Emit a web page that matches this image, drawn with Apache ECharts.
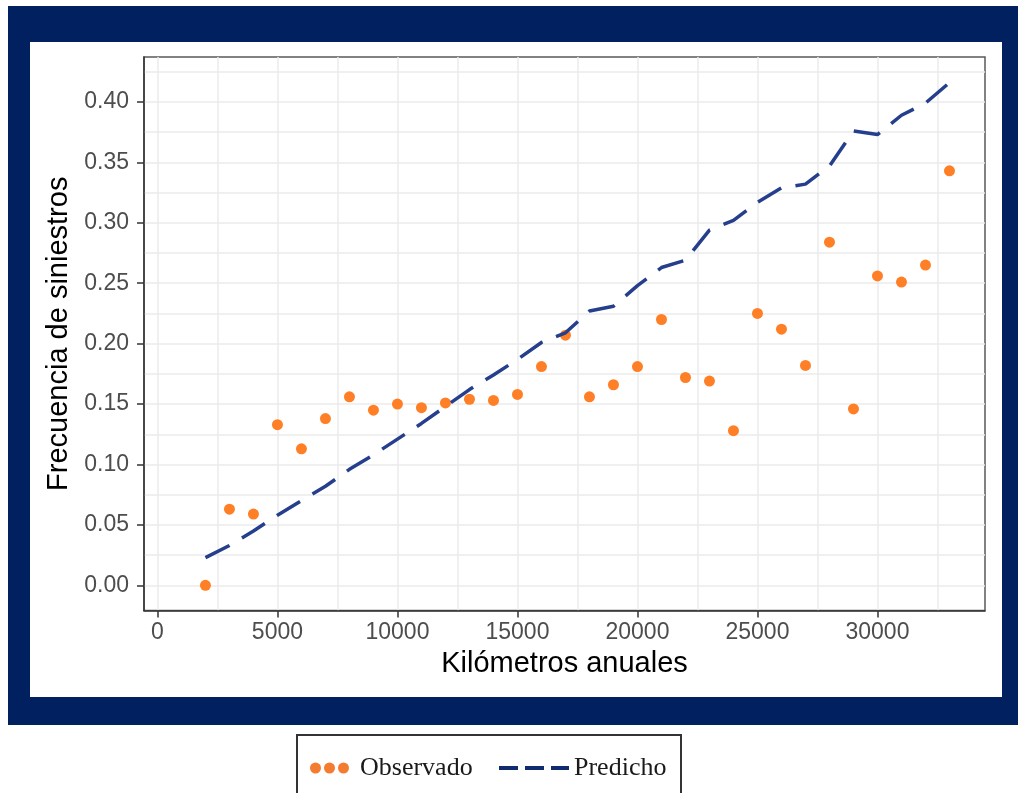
<!DOCTYPE html>
<html><head><meta charset="utf-8">
<script src="https://cdn.jsdelivr.net/npm/echarts@6/dist/echarts.min.js"></script>
<style>html,body{margin:0;padding:0;background:#fff}#c{width:1020px;height:793px}</style>
</head><body><div id="c"></div>
<script>
const km = [2000,3000,4000,5000,6000,7000,8000,9000,10000,11000,12000,13000,14000,15000,16000,17000,18000,19000,20000,21000,22000,23000,24000,25000,26000,27000,28000,29000,30000,31000,32000,33000];
const observado = [0.000,0.063,0.059,0.133,0.113,0.138,0.156,0.145,0.150,0.147,0.151,0.154,0.153,0.158,0.181,0.207,0.156,0.166,0.181,0.220,0.172,0.169,0.128,0.225,0.212,0.182,0.284,0.146,0.256,0.251,0.265,0.343];
const predicho = [0.023,0.033,0.045,0.058,0.070,0.082,0.096,0.108,0.121,0.134,0.148,0.162,0.174,0.187,0.201,0.209,0.227,0.231,0.248,0.263,0.269,0.294,0.302,0.317,0.329,0.332,0.347,0.376,0.373,0.389,0.399,0.416];
const xTicks = [0,5000,10000,15000,20000,25000,30000];
const xGrid = [0,2500,5000,7500,10000,12500,15000,17500,20000,22500,25000,27500,30000,32500];
const yTicks = [0,0.05,0.10,0.15,0.20,0.25,0.30,0.35,0.40];
const yGrid = [0,0.025,0.05,0.075,0.10,0.125,0.15,0.175,0.20,0.225,0.25,0.275,0.30,0.325,0.35,0.375,0.40,0.425];

const SANS = "'Liberation Sans', Arial, sans-serif";
const SERIF = "'Liberation Serif', 'Times New Roman', serif";
const X_MIN = -560, X_MAX = 34480, Y_MIN = -0.0208, Y_MAX = 0.4372;

const chart = echarts.init(document.getElementById('c'), null, {renderer: 'canvas'});
chart.setOption({
  animation: false,
  backgroundColor: '#ffffff',
  graphic: [
    {type: 'rect', z: -100, shape: {x: 8, y: 6, width: 1010, height: 719}, style: {fill: '#002060'}},
    {type: 'rect', z: -99, shape: {x: 30, y: 42, width: 972, height: 655}, style: {fill: '#ffffff'}},
    {type: 'rect', z: -98, shape: {x: 297, y: 735, width: 384, height: 80}, style: {fill: '#ffffff', stroke: '#333333', lineWidth: 2}}
  ],
  grid: {left: 144, right: 35, top: 57, bottom: 182.5, show: true, borderColor: '#595959', borderWidth: 1.5, backgroundColor: 'transparent'},
  xAxis: [
    {type: 'value', position: 'bottom', min: X_MIN, max: X_MAX,
     axisLine: {show: false, onZero: false}, axisTick: {show: false, customValues: xGrid},
     axisLabel: {show: false}, splitLine: {show: true, lineStyle: {color: '#EBEBEB', width: 1.5}}},
    {type: 'value', position: 'bottom', min: X_MIN, max: X_MAX,
     axisLine: {show: true, onZero: false, lineStyle: {color: '#333333', width: 1.5}},
     axisTick: {show: true, customValues: xTicks, length: 7, lineStyle: {color: '#333333', width: 1.5}},
     axisLabel: {customValues: xTicks, color: '#4D4D4D', fontSize: 23, fontFamily: SANS, margin: 11,
                 formatter: v => String(v)},
     splitLine: {show: false},
     name: 'Kilómetros anuales', nameLocation: 'middle', nameGap: 38,
     nameTextStyle: {color: '#000000', fontSize: 29, fontFamily: SANS}}
  ],
  yAxis: [
    {type: 'value', position: 'left', min: Y_MIN, max: Y_MAX,
     axisLine: {show: false, onZero: false}, axisTick: {show: false, customValues: yGrid},
     axisLabel: {show: false}, splitLine: {show: true, lineStyle: {color: '#EBEBEB', width: 1.5}}},
    {type: 'value', position: 'left', min: Y_MIN, max: Y_MAX,
     axisLine: {show: true, onZero: false, lineStyle: {color: '#333333', width: 1.5}},
     axisTick: {show: true, customValues: yTicks, length: 7, lineStyle: {color: '#333333', width: 1.5}},
     axisLabel: {customValues: yTicks, color: '#4D4D4D', fontSize: 23, fontFamily: SANS, margin: 15,
                 formatter: v => v.toFixed(2)},
     splitLine: {show: false},
     name: 'Frecuencia de siniestros', nameLocation: 'middle', nameGap: 66,
     nameTextStyle: {color: '#000000', fontSize: 29, fontFamily: SANS}}
  ],
  legend: [
    {data: [{name: 'Observado', icon: 'path://M0,5.5a5.5,5.5 0 1,0 11,0a5.5,5.5 0 1,0 -11,0M14,5.5a5.5,5.5 0 1,0 11,0a5.5,5.5 0 1,0 -11,0M28,5.5a5.5,5.5 0 1,0 11,0a5.5,5.5 0 1,0 -11,0'}],
     left: 310, top: 755, padding: 0, itemWidth: 39, itemHeight: 11, selectedMode: false,
     itemStyle: {color: '#F47C30'},
     textStyle: {fontFamily: SERIF, fontSize: 26, color: '#1a1a1a', padding: [0, 0, 0, 6]}},
    {data: ['Predicho'], left: 497, top: 755, padding: 0, itemWidth: 70, itemHeight: 14, selectedMode: false,
     itemStyle: {opacity: 0},
     lineStyle: {color: '#0E2C6E', width: 4, type: [19, 7]},
     textStyle: {fontFamily: SERIF, fontSize: 26, color: '#1a1a1a', padding: [0, 0, 0, 0]}}
  ],
  series: [
    {name: 'Observado', type: 'scatter', xAxisIndex: 1, yAxisIndex: 1, symbolSize: 11,
     itemStyle: {color: '#FF7F27', opacity: 1}, z: 3,
     data: km.map((k, i) => [k, observado[i]])},
    {name: 'Predicho', type: 'line', xAxisIndex: 1, yAxisIndex: 1, symbol: 'none', showSymbol: false, z: 4,
     lineStyle: {color: '#253F8D', width: 3.5, type: [27, 14.5]},
     data: km.map((k, i) => [k, predicho[i]])}
  ]
});
</script></body></html>
